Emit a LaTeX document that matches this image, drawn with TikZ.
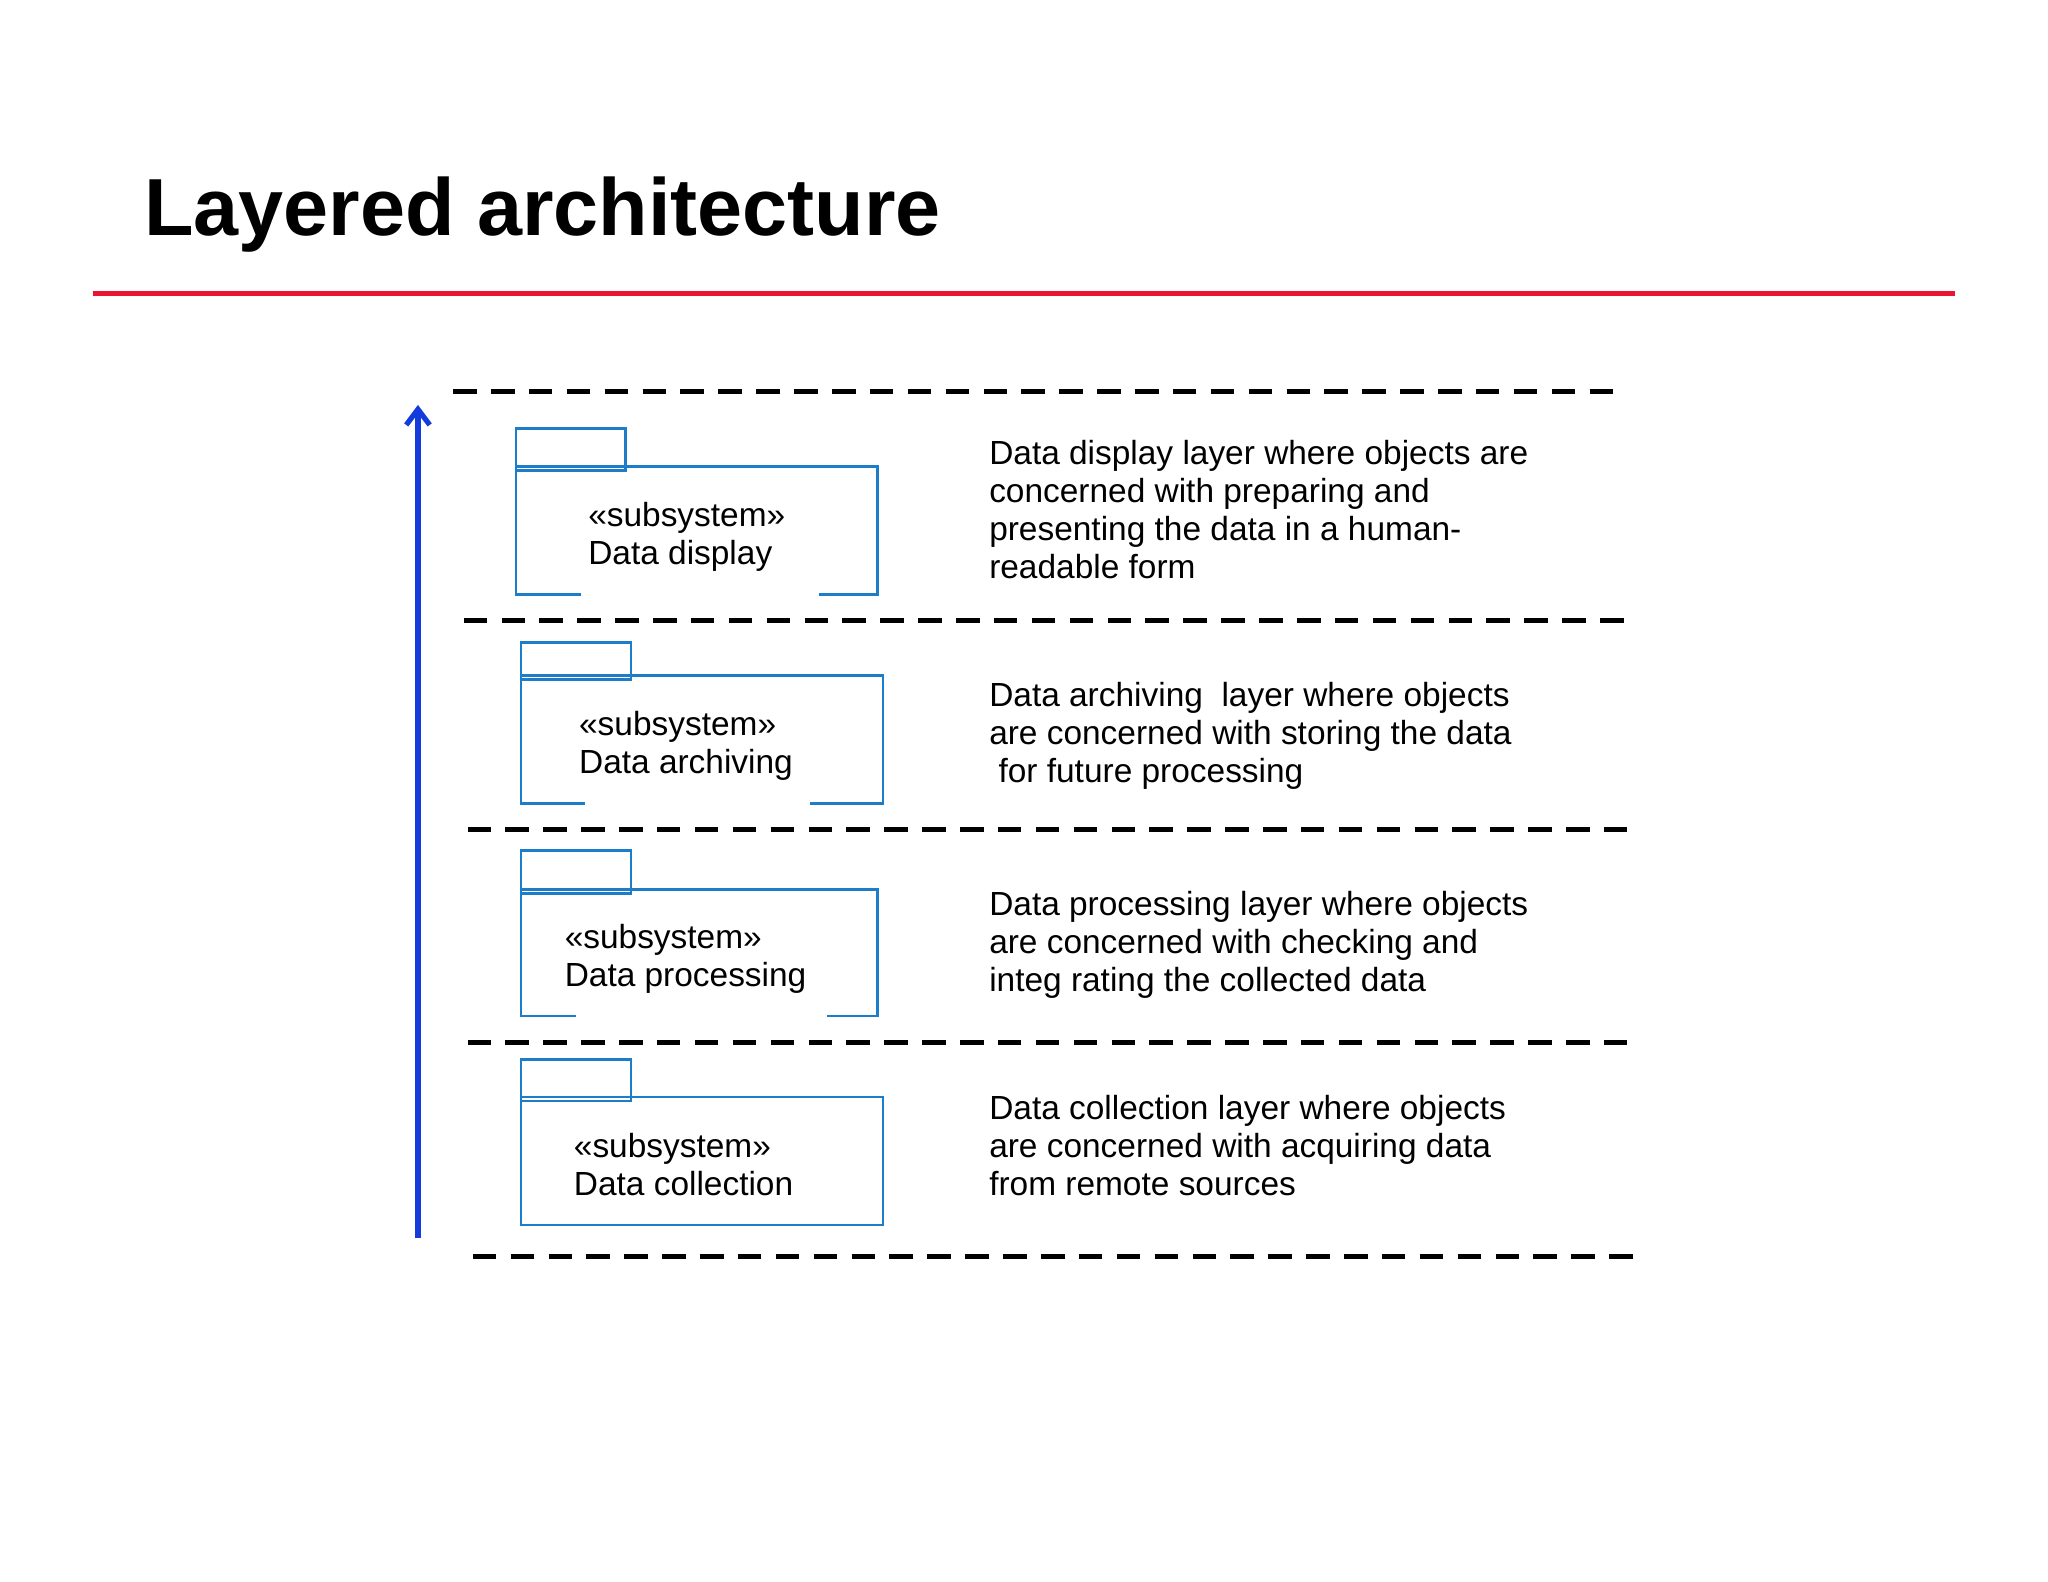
\documentclass[tikz,border=0pt]{standalone}
\usepackage{fontspec}
\usetikzlibrary{arrows.meta}
\setmainfont{Liberation Sans}
\begin{document}
\begin{tikzpicture}[x=0.5pt,y=-0.5pt,
  dashline/.style={draw=black,line width=2pt,dash pattern=on 9pt off 5.5pt},
  pkg/.style={draw=pkgblue,line width=1pt},
  txt/.style={anchor=north west,inner sep=0pt,align=left,font=\fontsize{12.8}{14.5}\selectfont}]
\definecolor{pkgblue}{RGB}{30,125,200}
\definecolor{arrblue}{RGB}{20,60,220}
\definecolor{tred}{RGB}{235,20,50}
\useasboundingbox (0,0) rectangle (1568,1211);
\node[anchor=base west,inner sep=0pt,font=\fontsize{31}{36}\bfseries\selectfont] (title) at (110,180) {Layered architecture};
\coordinate (r1) at (71,225); \coordinate (r2) at (1497,225);
\draw[tred,line width=2pt] (r1) -- (r2);
\coordinate (a1) at (320,948); \coordinate (a2) at (320,310);
\draw[arrblue,line width=2pt,-{Straight Barb[length=6pt,width=9pt]}] (a1) -- (a2);
\foreach \y/\a/\b in {300/347/1240,475/355/1245,635/358/1250,798/358/1250,962/362/1252}
  \draw[dashline] (\a,\y) -- (\b,\y);
% packages
\draw[pkg] (395,360) rectangle (479,328);
\draw[pkg] (445,455) -- (395,455) -- (395,357) -- (672,357) -- (672,455) -- (627,455);
\draw[pkg] (399,520) rectangle (483,492);
\draw[pkg] (448,615) -- (399,615) -- (399,517) -- (676,517) -- (676,615) -- (620,615);
\draw[pkg] (399,684) rectangle (483,651);
\draw[pkg] (441,778) -- (399,778) -- (399,681) -- (672,681) -- (672,778) -- (633,778);
\draw[pkg] (399,843) rectangle (483,811);
\draw[pkg] (399,840) rectangle (676,938);
\node[txt] (s1) at (450,384) {«subsystem»\\Data display};
\node[txt] (s2) at (443,544) {«subsystem»\\Data archiving};
\node[txt] (s3) at (432,707) {«subsystem»\\Data processing};
\node[txt] (s4) at (439,867) {«subsystem»\\Data collection};
\node[txt] (d1) at (757,337) {Data display layer where objects are\\concerned with preparing and\\presenting the data in a human-\\readable form};
\node[txt] (d2) at (757,522) {Data archiving\ \ layer where objects\\are concerned with storing the data\\\ for future processing};
\node[txt] (d3) at (757,682) {Data processing layer where objects\\are concerned with checking and\\integ rating the collected data};
\node[txt] (d4) at (757,838) {Data collection layer where objects\\are concerned with acquiring data\\from remote sources};
\end{tikzpicture}
\end{document}
